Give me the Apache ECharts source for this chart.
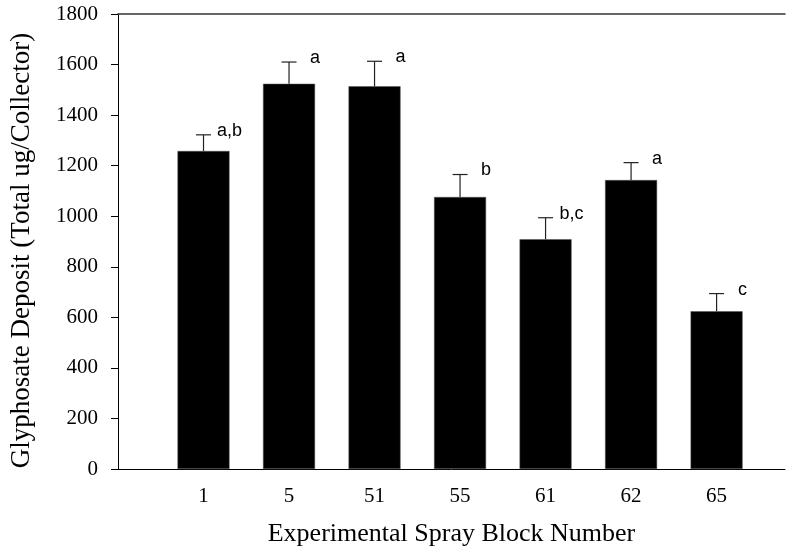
<!DOCTYPE html>
<html>
<head>
<meta charset="utf-8">
<script src="https://cdn.jsdelivr.net/npm/echarts@6/dist/echarts.min.js"></script>
<style>html,body{margin:0;padding:0;background:#fff}#chart{width:794px;height:555px}</style>
</head>
<body>
<div id="chart"></div>
<script>
var categories = ['1', '5', '51', '55', '61', '62', '65'];
var means = [1258, 1524, 1514, 1076, 909, 1143, 624];
var upper = [1322, 1610, 1613, 1165, 994, 1212, 694];
var letters = ['a,b', 'a', 'a', 'b', 'b,c', 'a', 'c'];
var yTicks = [0, 200, 400, 600, 800, 1000, 1200, 1400, 1600, 1800];

var serif = '"Liberation Serif", "Times New Roman", serif';
var sans = '"Liberation Sans", Arial, sans-serif';

var barData = categories.map(function (c, i) { return [i + 1, means[i]]; });
var errData = categories.map(function (c, i) { return [i + 1, means[i], upper[i]]; });

var chart = echarts.init(document.getElementById('chart'), null, {renderer: 'canvas'});
chart.setOption({
  animation: false,
  backgroundColor: '#fff',
  grid: {left: 117, top: 14, right: 9, bottom: 86},
  xAxis: [{
    type: 'value', min: 0, max: 7.8, interval: 1,
    name: 'Experimental Spray Block Number', nameLocation: 'middle', nameGap: 52,
    nameTextStyle: {fontFamily: serif, fontSize: 26, color: '#000'},
    axisLine: {show: true, lineStyle: {color: '#000', width: 1}},
    axisTick: {show: false},
    splitLine: {show: false},
    axisLabel: {
      showMaxLabel: false, margin: 17, fontFamily: serif, fontSize: 21, color: '#000',
      formatter: function (v) { var k = Math.round(v); return (Math.abs(v - k) < 1e-6 && k >= 1 && k <= categories.length) ? categories[k - 1] : ''; }
    }
  }, {
    type: 'value', min: 0, max: 7.8, position: 'top',
    axisLine: {show: true, lineStyle: {color: '#333', width: 1.5}},
    axisTick: {show: false}, axisLabel: {show: false}, splitLine: {show: false}
  }],
  yAxis: {
    type: 'value', min: yTicks[0], max: yTicks[yTicks.length - 1], interval: 200,
    name: 'Glyphosate Deposit (Total ug/Collector)', nameLocation: 'middle', nameGap: 83, nameRotate: 90,
    nameTextStyle: {fontFamily: serif, fontSize: 27, color: '#000', padding: [0, 18, 0, 0]},
    axisLine: {show: true, lineStyle: {color: '#000', width: 1}},
    axisTick: {show: true, inside: false, length: 7, lineStyle: {color: '#000'}},
    splitLine: {show: false},
    axisLabel: {margin: 20, fontFamily: serif, fontSize: 21, color: '#000', formatter: function (v) { return String(v); }}
  },
  series: [{
    type: 'bar', data: barData, barWidth: 52,
    itemStyle: {color: '#000', borderColor: '#555', borderWidth: 0.5}
  }, {
    type: 'custom', data: errData, z: 3,
    renderItem: function (params, api) {
      var x = api.value(0);
      var lo = api.coord([x, api.value(1)]);
      var hi = api.coord([x, api.value(2)]);
      var txt = letters[params.dataIndex];
      return {
        type: 'group',
        children: [
          {type: 'line', shape: {x1: lo[0], y1: lo[1], x2: hi[0], y2: hi[1]}, style: {stroke: '#222', lineWidth: 1.2}},
          {type: 'line', shape: {x1: hi[0] - 7.5, y1: hi[1], x2: hi[0] + 7.5, y2: hi[1]}, style: {stroke: '#222', lineWidth: 1.2}},
          {type: 'text', x: hi[0] + 26, y: hi[1] - 4, style: {text: txt, fontFamily: sans, fontSize: 18, fill: '#000', align: 'center', verticalAlign: 'middle'}}
        ]
      };
    }
  }]
});
</script>
</body>
</html>
